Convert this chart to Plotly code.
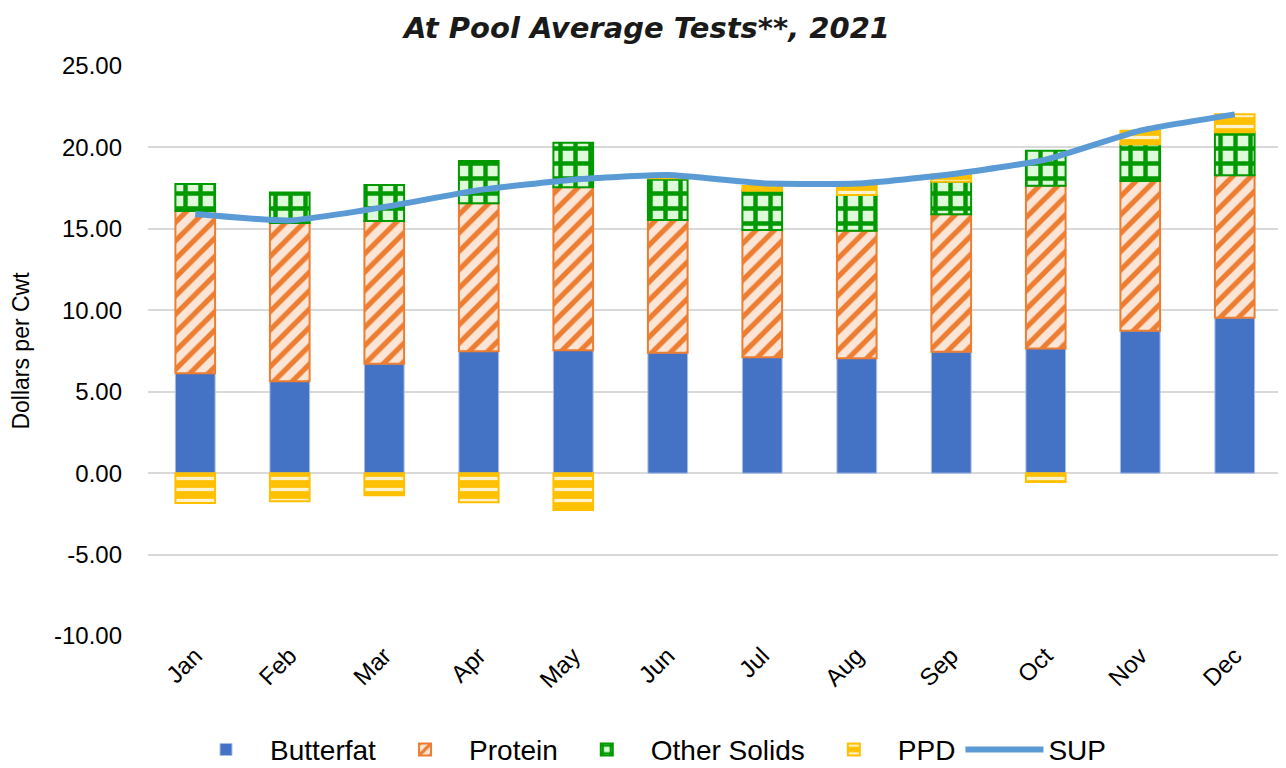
import plotly.graph_objects as go

# values (dollars per cwt)
months = ['Jan', 'Feb', 'Mar', 'Apr', 'May', 'Jun',
          'Jul', 'Aug', 'Sep', 'Oct', 'Nov', 'Dec']
butterfat = [6.14, 5.65, 6.71, 7.49, 7.55, 7.39, 7.12, 7.06, 7.45, 7.66, 8.74, 9.54]
protein = [9.95, 9.71, 8.77, 9.09, 10.00, 8.15, 7.81, 7.82, 8.44, 9.99, 9.20, 8.75]
other_solids = [1.66, 1.88, 2.21, 2.58, 2.74, 2.56, 2.41, 2.20, 2.01, 2.15, 2.25, 2.64]
ppd = [-1.84, -1.72, -1.35, -1.78, -2.27, 0.20, 0.29, 0.70, 0.45, -0.55, 0.84, 1.10]
sup = [15.91, 15.52, 16.34, 17.38, 18.02, 18.30, 17.80, 17.78, 18.35, 19.25, 21.03, 22.03]

y_ticks = [-10, -5, 0, 5, 10, 15, 20, 25]
y_tick_labels = ['-10.00', '-5.00', '0.00', '5.00', '10.00', '15.00', '20.00', '25.00']

arial = 'Liberation Sans, Arial'

fig = go.Figure()

fig.add_trace(go.Bar(
    x=months, y=butterfat, name='Butterfat',
    marker=dict(color='#4472C4', line=dict(color='#A9BEE6', width=1))))

fig.add_trace(go.Bar(
    x=months, y=protein, name='Protein',
    marker=dict(color='#FBE5D6', line=dict(color='#ED7D31', width=2),
                pattern=dict(shape='/', fgcolor='#ED7D31', bgcolor='#FBE5D6',
                             fgopacity=1, size=13, solidity=0.4))))

fig.add_trace(go.Bar(
    x=months, y=other_solids, name='Other Solids',
    marker=dict(color='#DDFBD8', line=dict(color='#009900', width=2),
                pattern=dict(shape='+', fgcolor='#009900', bgcolor='#DDFBD8',
                             fgopacity=1, size=15, solidity=0.5))))

fig.add_trace(go.Bar(
    x=months, y=ppd, name='PPD',
    marker=dict(color='#FFC000', line=dict(color='#FFC000', width=2),
                pattern=dict(shape='-', fgcolor='#FFF2CC', bgcolor='#FFC000',
                             fgopacity=1, size=11, solidity=0.3))))

fig.add_trace(go.Scatter(
    x=months, y=sup, name='SUP', mode='lines',
    line=dict(color='#5B9BD5', width=6, shape='spline', smoothing=0.5)))

# the page body adds an 8px offset, so the figure is drawn 8px smaller
fig.update_layout(
    barmode='relative',
    bargap=0.58,
    width=1278, height=760,
    paper_bgcolor='white', plot_bgcolor='white',
    margin=dict(l=140, r=4, t=58, b=132, autoexpand=False),
    title=dict(text='<b><i>At Pool Average Tests**, 2021</i></b>',
               x=0.5, xanchor='center', y=0.974, yanchor='middle',
               font=dict(family='DejaVu Sans', size=29, color='#1a1a1a')),
    legend=dict(orientation='h', xref='container', x=0.5, xanchor='center',
                yref='container', y=0.024, yanchor='middle',
                font=dict(family=arial, size=28, color='black'),
                itemwidth=78),
    showlegend=True,
)

fig.update_xaxes(tickangle=-45, tickfont=dict(family=arial, size=24, color='black'),
                 showgrid=False, showline=False, ticks='', automargin=False)

fig.update_yaxes(range=[-10, 25], tickvals=y_ticks, ticktext=y_tick_labels,
                 tickfont=dict(family=arial, size=24, color='black'),
                 showgrid=True, gridcolor='#D9D9D9', gridwidth=2,
                 zeroline=True, zerolinecolor='#D9D9D9', zerolinewidth=2,
                 ticklabelstandoff=25, automargin=False,
                 title=dict(text='Dollars per Cwt',
                            font=dict(family=arial, size=23, color='black'),
                            standoff=21))

fig.write_html('out.html')
